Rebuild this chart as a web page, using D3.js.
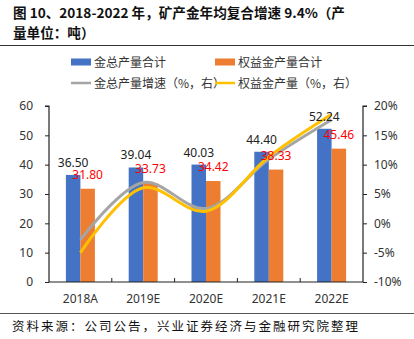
<!DOCTYPE html>
<html><head><meta charset="utf-8">
<script src="https://cdn.jsdelivr.net/npm/d3@7"></script>
<style>body{margin:0;background:#fff}svg{display:block}</style>
</head><body>
<script>
const categories = ["2018A","2019E","2020E","2021E","2022E"];
const totalOutput = [36.50,39.04,40.03,44.40,52.24];
const equityOutput = [31.80,33.73,34.42,38.33,45.46];
const totalGrowth = [-2.8,6.96,2.54,10.92,17.66];
const equityGrowth = [-5.0,6.07,2.05,11.36,18.60];
const leftTicks = [0,10,20,30,40,50,60];
const rightTicks = [-10,-5,0,5,10,15,20];

const W=414,H=339;
const svg=d3.select("body").append("svg").attr("width",W).attr("height",H);
const cjk='"Noto Sans CJK SC", sans-serif';
const latin='"Noto Sans", "DejaVu Sans", sans-serif';

// title
svg.append("text").attr("x",13).attr("y",18).attr("font-family",cjk).attr("font-weight","bold")
  .attr("font-size",13.6).attr("fill","#111").text("图 10、2018-2022 年，矿产金年均复合增速 9.4%（产");
svg.append("text").attr("x",13).attr("y",38).attr("font-family",cjk).attr("font-weight","bold")
  .attr("font-size",13.6).attr("fill","#111").text("量单位：吨）");
svg.append("line").attr("x1",0).attr("x2",414).attr("y1",45.5).attr("y2",45.5).attr("stroke","#333").attr("stroke-width",1.2);
svg.append("line").attr("x1",0).attr("x2",414).attr("y1",313.5).attr("y2",313.5).attr("stroke","#555").attr("stroke-width",1.2);
svg.append("text").attr("x",12).attr("y",331).attr("font-family",cjk).attr("font-size",12.5).attr("letter-spacing",2).attr("fill","#111")
  .text("资料来源：公司公告，兴业证券经济与金融研究院整理");

const x0=49,x1=363,yTop=106,yBot=282;
const x=d3.scaleBand().domain(categories).range([x0,x1]);
const yL=d3.scaleLinear().domain([0,60]).range([yBot,yTop]);
const yR=d3.scaleLinear().domain([-10,20]).range([yBot,yTop]);
const bw=14.5;

// legend
const lg=[{x:71,y:62,t:"金总产量合计",c:"#4472C4",type:"rect"},
          {x:215,y:62,t:"权益金产量合计",c:"#ED7D31",type:"rect"},
          {x:71,y:83,t:"金总产量增速（%，右）",c:"#A5A5A5",type:"line"},
          {x:215,y:83,t:"权益金产量（%，右）",c:"#FFC000",type:"line"}];
lg.forEach(d=>{
  if(d.type==="rect") svg.append("rect").attr("x",d.x).attr("y",d.y-3.5).attr("width",20).attr("height",7).attr("fill",d.c);
  else svg.append("line").attr("x1",d.x).attr("x2",d.x+20).attr("y1",d.y).attr("y2",d.y).attr("stroke",d.c).attr("stroke-width",2.5);
  svg.append("text").attr("x",d.x+23).attr("y",d.y+4.5).attr("font-family",cjk).attr("font-size",12).attr("fill","#333").text(d.t);
});

// bars
const g=svg.append("g");
g.selectAll(".b1").data(categories).enter().append("rect")
  .attr("x",d=>x(d)+x.bandwidth()/2-bw).attr("width",bw)
  .attr("y",(d,i)=>yL(totalOutput[i])).attr("height",(d,i)=>yBot-yL(totalOutput[i])).attr("fill","#4472C4");
g.selectAll(".b2").data(categories).enter().append("rect")
  .attr("x",d=>x(d)+x.bandwidth()/2).attr("width",bw)
  .attr("y",(d,i)=>yL(equityOutput[i])).attr("height",(d,i)=>yBot-yL(equityOutput[i])).attr("fill","#ED7D31");

// axes
const axL=svg.append("g").attr("transform",`translate(${x0},0)`)
  .call(d3.axisLeft(yL).tickValues(leftTicks).tickSize(4).tickPadding(12));
const axR=svg.append("g").attr("transform",`translate(${x1},0)`)
  .call(d3.axisRight(yR).tickValues(rightTicks).tickSize(4).tickPadding(7).tickFormat(d=>d+"%"));
const axB=svg.append("g").attr("transform",`translate(0,${yBot})`)
  .call(d3.axisBottom(x).tickSize(0).tickPadding(12));
[axL,axR,axB].forEach(a=>{
  a.selectAll("path").attr("stroke","#222").attr("stroke-width",1.2);
  a.selectAll("line").attr("stroke","#222");
  a.selectAll("text").attr("font-family",latin).attr("font-size",12).attr("fill","#333");
});
axL.select("path").attr("d",`M-4,${yTop}H0V${yBot}`);
axR.select("path").attr("d",`M4,${yTop}H0V${yBot}`);
axB.select("path").attr("d",`M${x0},0H${x1}`);
// category boundary ticks
svg.selectAll(".ct").data(categories.slice(1)).enter().append("line")
  .attr("x1",d=>x(d)).attr("x2",d=>x(d)).attr("y1",yBot).attr("y2",yBot-4).attr("stroke","#222");

// lines
const line=(arr)=>d3.line().x((d,i)=>x(categories[i])+x.bandwidth()/2).y(d=>yR(d)).curve(d3.curveCatmullRom.alpha(0.5))(arr);
svg.append("path").attr("d",line(totalGrowth)).attr("fill","none").attr("stroke","#A5A5A5").attr("stroke-width",3);
svg.append("path").attr("d",line(equityGrowth)).attr("fill","none").attr("stroke","#FFC000").attr("stroke-width",3);

// labels
svg.selectAll(".l1").data(categories).enter().append("text")
  .attr("x",d=>x(d)+x.bandwidth()/2-bw/2).attr("y",(d,i)=>yL(totalOutput[i])-8)
  .attr("text-anchor","middle").attr("font-family",latin).attr("font-size",12).attr("fill","#222")
  .text((d,i)=>totalOutput[i].toFixed(2));
svg.selectAll(".l2").data(categories).enter().append("text")
  .attr("x",d=>x(d)+x.bandwidth()/2+bw/2).attr("y",(d,i)=>yL(equityOutput[i])-10)
  .attr("text-anchor","middle").attr("font-family",latin).attr("font-size",12).attr("fill","#FF0000")
  .text((d,i)=>equityOutput[i].toFixed(2));
</script>
</body></html>
